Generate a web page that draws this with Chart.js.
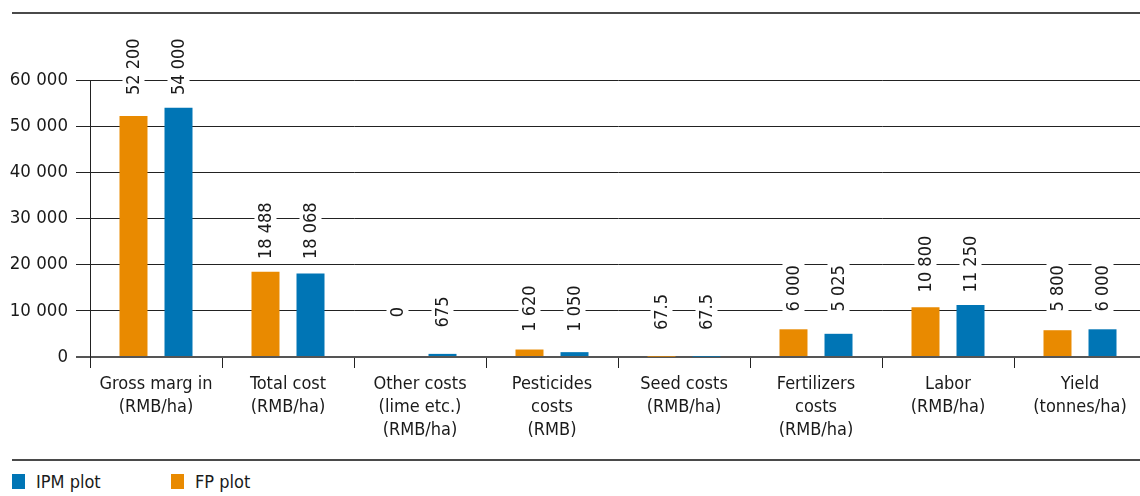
<!DOCTYPE html>
<html>
<head>
<meta charset="utf-8">
<script src="https://cdn.jsdelivr.net/npm/chart.js@4"></script>
<style>
    html, body { margin: 0; padding: 0; background: #fff; overflow: hidden; }
    body { width: 1140px; height: 496px; position: relative; font-family: "DejaVu Sans Condensed", "DejaVu Sans", sans-serif; color: #1a1a1a; }
    .rule { position: absolute; left: 12px; width: 1128px; background: #4a4a4a; }
    #chartBox { position: absolute; left: 0; top: 0; width: 1150px; height: 457px; }
    .legend { position: absolute; top: 471px; font-size: 18px; display: flex; align-items: center; }
    .legend span.sw { display: inline-block; width: 13px; height: 15px; margin-right: 11px; }
</style>
</head>
<body>
<div class="rule" style="top:12px;height:2px;"></div>
<div id="chartBox"><canvas id="mainChart"></canvas></div>
<div class="rule" style="top:459px;height:2px;"></div>
<div class="legend" style="left:12px;"><span class="sw" style="background:#0075B5"></span>IPM plot</div>
<div class="legend" style="left:171px;"><span class="sw" style="background:#E98A00"></span>FP plot</div>

<script>
// Данные графика
const categories = [
    ['Gross marg in', '(RMB/ha)'],
    ['Total cost', '(RMB/ha)'],
    ['Other costs', '(lime etc.)', '(RMB/ha)'],
    ['Pesticides', 'costs', '(RMB)'],
    ['Seed costs', '(RMB/ha)'],
    ['Fertilizers', 'costs', '(RMB/ha)'],
    ['Labor', '(RMB/ha)'],
    ['Yield', '(tonnes/ha)']
];
const fpValues = [52200, 18488, 0, 1620, 67.5, 6000, 10800, 5800];
const ipmValues = [54000, 18068, 675, 1050, 67.5, 5025, 11250, 6000];
const yTicks = [0, 10000, 20000, 30000, 40000, 50000, 60000];

const FONT = '"DejaVu Sans Condensed", "DejaVu Sans", sans-serif';
const TEXT_COLOR = '#1a1a1a';

// Формат чисел с пробелом между тысячами
function formatNumber(v) {
    return v.toLocaleString('en-US', { maximumFractionDigits: 1 }).replace(/,/g, ' ');
}

// Подписи значений, повернутые на 90°
const valueLabels = {
    id: 'valueLabels',
    afterDatasetsDraw(chart) {
        const ctx = chart.ctx;
        const yScale = chart.scales.y;
        const y0 = yScale.getPixelForValue(0);

        ctx.save();
        ctx.font = '18px ' + FONT;
        ctx.textAlign = 'center';
        ctx.textBaseline = 'middle';
        categories.forEach((c, i) => {
            const max = Math.max(fpValues[i], ipmValues[i]);
            const yc = Math.min(yScale.getPixelForValue(max) - 41, y0 - 45);
            chart.data.datasets.forEach((ds, d) => {
                const bar = chart.getDatasetMeta(d).data[i];
                const text = formatNumber(ds.data[i]);
                const w = ctx.measureText(text).width;
                ctx.save();
                ctx.translate(bar.x, yc);
                ctx.rotate(-Math.PI / 2);
                ctx.fillStyle = '#fff';
                ctx.fillRect(-w / 2 - 5, -11, w + 10, 22);
                ctx.fillStyle = TEXT_COLOR;
                ctx.fillText(text, 0, 1);
                ctx.restore();
            });
        });
        ctx.restore();
    }
};

new Chart(document.getElementById('mainChart'), {
    type: 'bar',
    data: {
        labels: categories,
        datasets: [
            { label: 'FP plot', data: fpValues, backgroundColor: '#E98A00' },
            { label: 'IPM plot', data: ipmValues, backgroundColor: '#0075B5' }
        ]
    },
    options: {
        responsive: true,
        maintainAspectRatio: false,
        animation: false,
        categoryPercentage: 0.682,
        barPercentage: 0.622,
        layout: { padding: { top: 80, left: 0, right: 4, bottom: 0 } },
        plugins: {
            legend: { display: false },
            tooltip: { enabled: false }
        },
        scales: {
            x: {
                grid: {
                    offset: true,
                    drawOnChartArea: false,
                    tickLength: 11,
                    color: '#222'
                },
                border: { display: false },
                ticks: {
                    color: TEXT_COLOR,
                    font: { family: FONT, size: 18, lineHeight: 1.28 },
                    padding: 5,
                    maxRotation: 0,
                    autoSkip: false
                },
                afterFit(scale) { scale.height = 100; }
            },
            y: {
                min: 0,
                max: 60000,
                afterBuildTicks(scale) { scale.ticks = yTicks.map(v => ({ value: v })); },
                grid: {
                    tickLength: 14,
                    color: ctx => ctx.tick && ctx.tick.value === 0 ? '#555' : '#222',
                    lineWidth: ctx => ctx.tick && ctx.tick.value === 0 ? 2 : 1
                },
                border: { display: true, color: '#222', width: 1 },
                ticks: {
                    color: TEXT_COLOR,
                    font: { family: FONT, size: 18.5 },
                    padding: 8,
                    callback: v => formatNumber(v)
                },
                afterFit(scale) { scale.width = 90; }
            }
        }
    },
    plugins: [valueLabels]
});
</script>
</body>
</html>
